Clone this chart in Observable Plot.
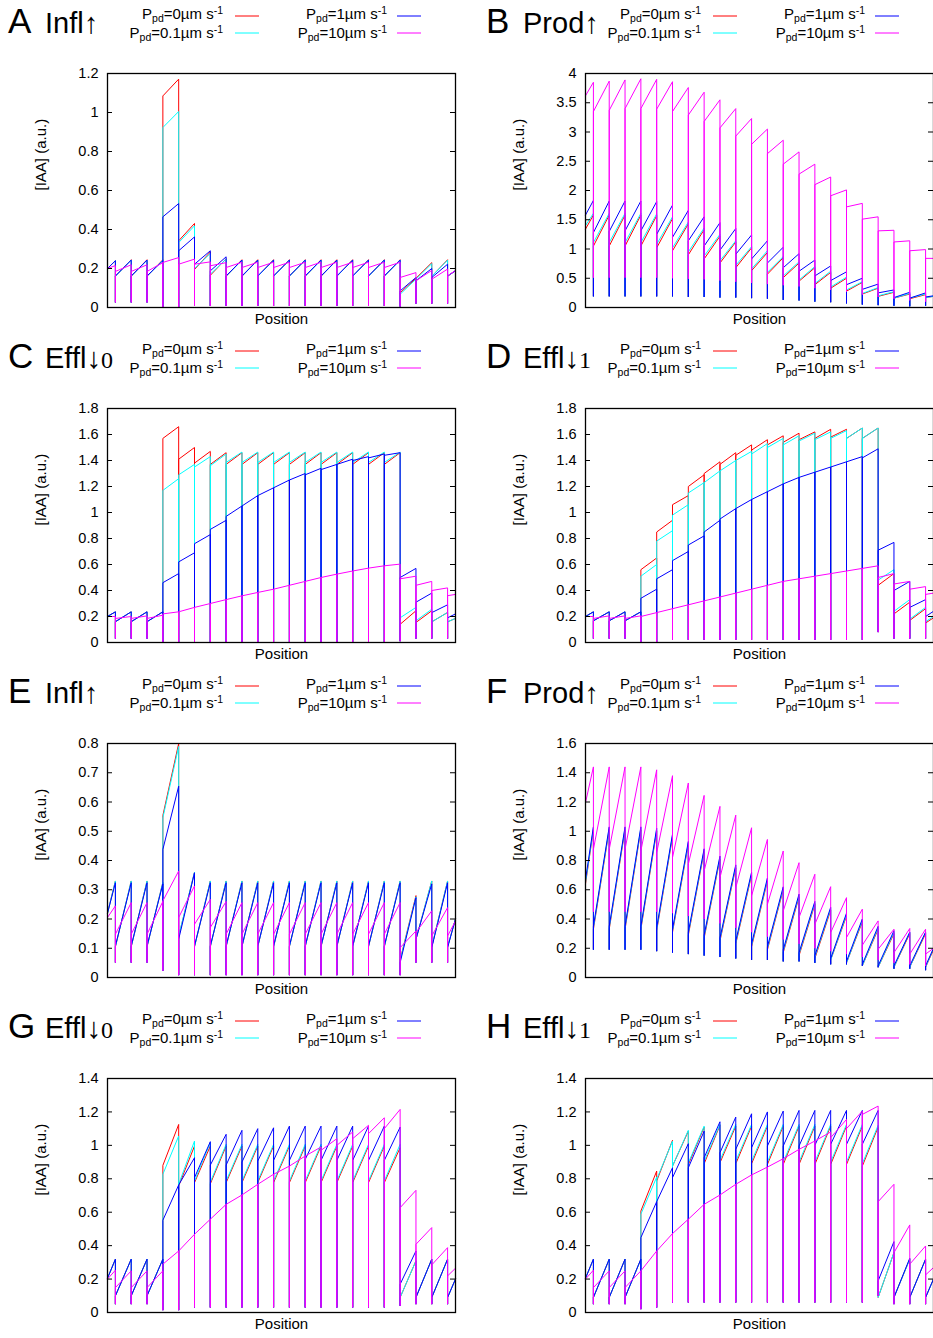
<!DOCTYPE html>
<html><head><meta charset="utf-8">
<script src="https://cdn.jsdelivr.net/npm/d3@7"></script>
<script src="https://cdn.jsdelivr.net/npm/@observablehq/plot@0.6"></script>
<style>
body{margin:0;background:#fff;width:933px;height:1338px;overflow:hidden;position:relative;font-family:"Liberation Sans",Arial,sans-serif}
.panel{position:absolute;width:466px;height:335px}
.panel svg.plot{position:absolute;left:0;top:0}
.panel svg.head{position:absolute;left:0;top:0;overflow:visible}
</style></head><body>
<script>
// wall positions (cell boundaries) along the tissue, domain 0..22
const walls = [0.5,1.5,2.5,3.5,4.5,5.5,6.5,7.5,8.5,9.5,10.5,11.5,12.5,13.5,14.5,15.5,16.5,17.5,18.5,19.5,20.5,21.5];
const xDomain = [0, 22];
const seriesNames = ["Ppd=0", "Ppd=0.1", "Ppd=1", "Ppd=10"];
const seriesColors = ["#ff0000", "#00ffff", "#0000ff", "#ff00ff"];
const legendValues = ["0", "0.1", "1", "10"];

// ---- Panel A ----
const A_ticks = [0,0.2,0.4,0.6,0.8,1,1.2];
const A_red_s  = [0.20,0.16,0.16,0.16,1.085,0.342,0.195,0.165,0.16,0.16,0.16,0.16,0.16,0.16,0.16,0.16,0.16,0.16,0.16,0.075,0.15,0.16,0.16];
const A_red_e  = [0.24,0.245,0.245,0.245,1.171,0.431,0.285,0.25,0.245,0.245,0.245,0.245,0.245,0.245,0.245,0.245,0.245,0.245,0.245,0.15,0.23,0.245,0.19];
const A_cyan_s = [0.20,0.16,0.16,0.16,0.923,0.333,0.20,0.171,0.16,0.16,0.16,0.16,0.16,0.16,0.16,0.16,0.16,0.16,0.16,0.068,0.145,0.16,0.16];
const A_cyan_e = [0.24,0.243,0.243,0.243,1.005,0.419,0.277,0.248,0.243,0.243,0.243,0.243,0.243,0.243,0.243,0.243,0.243,0.243,0.243,0.145,0.225,0.243,0.19];
const A_blue_s = [0.20,0.162,0.162,0.162,0.465,0.291,0.222,0.188,0.162,0.162,0.162,0.162,0.162,0.162,0.162,0.162,0.162,0.162,0.162,0.085,0.137,0.154,0.162];
const A_blue_e = [0.24,0.243,0.243,0.24,0.533,0.362,0.291,0.26,0.243,0.243,0.243,0.243,0.243,0.243,0.243,0.243,0.243,0.243,0.243,0.154,0.20,0.222,0.188];
const A_mag_s  = [0.20,0.185,0.185,0.185,0.231,0.222,0.222,0.214,0.205,0.205,0.205,0.205,0.205,0.205,0.205,0.205,0.205,0.205,0.205,0.154,0.137,0.145,0.162];
const A_mag_e  = [0.215,0.219,0.219,0.23,0.256,0.248,0.234,0.23,0.232,0.232,0.232,0.232,0.232,0.232,0.232,0.232,0.232,0.232,0.232,0.179,0.19,0.197,0.19];
const A_dip    = [0.026,0.026,0.026,0,0,0.008,0.008,0.008,0.008,0.008,0.008,0.008,0.008,0.008,0.008,0.008,0.008,0.008,0.005,0.02,0.02,0.02];

// ---- Panel B ----
const B_ticks = [0,0.5,1,1.5,2,2.5,3,3.5,4];
const B_red_s  = [1.34,1.05,1.05,1.05,1.05,1.02,0.97,0.90,0.83,0.76,0.68,0.63,0.57,0.51,0.45,0.39,0.33,0.28,0.23,0.19,0.16,0.15,0.17];
const B_red_e  = [1.58,1.58,1.58,1.58,1.57,1.52,1.43,1.33,1.22,1.12,1.02,0.94,0.85,0.76,0.68,0.60,0.50,0.43,0.33,0.26,0.23,0.22,0.19];
const B_cyan_s = [1.40,1.11,1.11,1.11,1.11,1.08,1.02,0.95,0.88,0.80,0.72,0.66,0.60,0.54,0.47,0.41,0.35,0.30,0.24,0.20,0.16,0.16,0.17];
const B_cyan_e = [1.61,1.61,1.61,1.61,1.60,1.55,1.46,1.36,1.25,1.14,1.04,0.97,0.87,0.78,0.70,0.62,0.52,0.44,0.34,0.27,0.24,0.23,0.19];
const B_blue_s = [1.58,1.28,1.30,1.31,1.31,1.25,1.20,1.14,1.05,0.98,0.91,0.83,0.76,0.68,0.62,0.54,0.46,0.39,0.31,0.25,0.17,0.16,0.18];
const B_blue_e = [1.83,1.82,1.82,1.82,1.81,1.75,1.66,1.55,1.45,1.35,1.24,1.14,1.03,0.92,0.81,0.71,0.61,0.50,0.40,0.30,0.26,0.25,0.20];
const B_mag_s  = [3.62,3.35,3.37,3.40,3.40,3.39,3.35,3.29,3.18,3.07,2.93,2.79,2.63,2.45,2.28,2.10,1.91,1.72,1.51,1.31,1.12,0.97,0.84];
const B_mag_e  = [3.85,3.87,3.89,3.91,3.90,3.86,3.76,3.68,3.55,3.40,3.23,3.05,2.86,2.66,2.45,2.23,2.01,1.78,1.55,1.32,1.14,0.99,0.84];
const B_dip    = [0.19,0.19,0.19,0.19,0.19,0.19,0.18,0.18,0.17,0.17,0.16,0.15,0.13,0.12,0.10,0.09,0.07,0.05,0.04,0.03,0.02,0.03];
const B_dipM   = [0.51,0.51,0.51,0.51,0.51,0.50,0.49,0.48,0.46,0.44,0.42,0.40,0.38,0.36,0.33,0.30,0.27,0.22,0.18,0.15,0.12,0.10];

// ---- Panel C ----
const C_ticks = [0,0.2,0.4,0.6,0.8,1,1.2,1.4,1.6,1.8];
const C_red_s  = [0.20,0.16,0.16,0.16,1.57,1.41,1.38,1.37,1.37,1.37,1.37,1.37,1.37,1.37,1.37,1.37,1.37,1.37,1.37,0.14,0.154,0.159,0.159];
const C_red_e  = [0.236,0.236,0.236,0.236,1.66,1.50,1.47,1.46,1.46,1.46,1.46,1.46,1.46,1.46,1.46,1.46,1.46,1.46,1.46,0.244,0.244,0.231,0.185];
const C_cyan_s = [0.20,0.16,0.16,0.16,1.17,1.29,1.35,1.36,1.385,1.385,1.385,1.385,1.385,1.385,1.385,1.385,1.385,1.385,1.385,0.19,0.167,0.159,0.159];
const C_cyan_e = [0.236,0.236,0.236,0.236,1.26,1.37,1.43,1.45,1.465,1.465,1.465,1.465,1.465,1.465,1.465,1.465,1.465,1.465,1.465,0.27,0.256,0.231,0.185];
const C_blue_s = [0.20,0.16,0.16,0.16,0.46,0.62,0.76,0.87,0.97,1.05,1.13,1.19,1.25,1.29,1.33,1.37,1.40,1.42,1.44,0.50,0.31,0.23,0.19];
const C_blue_e = [0.236,0.236,0.236,0.236,0.53,0.69,0.83,0.94,1.05,1.13,1.19,1.25,1.30,1.34,1.37,1.41,1.43,1.45,1.46,0.57,0.38,0.29,0.22];
const C_mag_s  = [0.20,0.185,0.185,0.185,0.22,0.236,0.27,0.30,0.33,0.359,0.385,0.41,0.44,0.47,0.50,0.526,0.55,0.572,0.59,0.49,0.44,0.40,0.36];
const C_mag_e  = [0.20,0.20,0.205,0.21,0.236,0.27,0.30,0.33,0.359,0.385,0.41,0.44,0.47,0.50,0.526,0.55,0.572,0.59,0.603,0.51,0.47,0.42,0.37];
const C_dip    = [0.03,0.03,0.03,0,0,0,0,0,0,0,0,0,0,0,0,0,0,0,0.01,0.03,0.03,0.03];

// ---- Panel D ----
const D_ticks = [0,0.2,0.4,0.6,0.8,1,1.2,1.4,1.6,1.8];
const D_red_s  = [0.20,0.167,0.167,0.167,0.56,0.85,1.06,1.20,1.30,1.37,1.44,1.48,1.52,1.54,1.56,1.57,1.58,1.57,1.57,0.44,0.22,0.17,0.15];
const D_red_e  = [0.236,0.236,0.236,0.236,0.65,0.94,1.13,1.29,1.39,1.46,1.52,1.56,1.59,1.61,1.62,1.64,1.64,1.65,1.65,0.53,0.31,0.26,0.19];
const D_cyan_s = [0.20,0.167,0.167,0.167,0.51,0.78,0.98,1.15,1.23,1.32,1.40,1.45,1.50,1.52,1.55,1.56,1.57,1.57,1.57,0.48,0.24,0.18,0.16];
const D_cyan_e = [0.236,0.236,0.236,0.236,0.60,0.86,1.06,1.23,1.32,1.40,1.47,1.53,1.57,1.59,1.61,1.62,1.63,1.65,1.65,0.56,0.33,0.27,0.20];
const D_blue_s = [0.20,0.167,0.167,0.167,0.34,0.49,0.63,0.75,0.85,0.95,1.03,1.10,1.16,1.22,1.27,1.31,1.35,1.39,1.42,0.71,0.40,0.27,0.20];
const D_blue_e = [0.236,0.236,0.236,0.236,0.41,0.56,0.70,0.82,0.94,1.03,1.10,1.16,1.22,1.27,1.31,1.35,1.39,1.43,1.49,0.77,0.47,0.33,0.24];
const D_mag_s  = [0.20,0.185,0.185,0.185,0.20,0.23,0.26,0.29,0.32,0.35,0.38,0.41,0.44,0.47,0.49,0.51,0.53,0.55,0.57,0.50,0.45,0.41,0.37];
const D_mag_e  = [0.20,0.205,0.205,0.205,0.23,0.26,0.29,0.32,0.35,0.38,0.41,0.44,0.47,0.49,0.51,0.53,0.55,0.57,0.59,0.53,0.47,0.43,0.38];
const D_dip    = [0.03,0.03,0.03,0,0,0.02,0.02,0.02,0.02,0.02,0.02,0.02,0.02,0.02,0.02,0.02,0.02,0.02,0.08,0.03,0.03,0.03];

// ---- Panel E ----
const E_ticks = [0,0.1,0.2,0.3,0.4,0.5,0.6,0.7,0.8];
const E_red_s  = [0.22,0.105,0.105,0.105,0.554,0.14,0.105,0.105,0.105,0.105,0.105,0.105,0.105,0.105,0.105,0.105,0.105,0.105,0.105,0.06,0.13,0.105,0.105];
const E_red_e  = [0.33,0.33,0.33,0.325,0.80,0.36,0.33,0.33,0.33,0.33,0.33,0.33,0.33,0.33,0.33,0.33,0.33,0.33,0.33,0.28,0.33,0.33,0.20];
const E_cyan_s = [0.22,0.105,0.105,0.105,0.546,0.142,0.105,0.105,0.105,0.105,0.105,0.105,0.105,0.105,0.105,0.105,0.105,0.105,0.105,0.058,0.13,0.105,0.105];
const E_cyan_e = [0.33,0.33,0.33,0.325,0.79,0.36,0.33,0.33,0.33,0.33,0.33,0.33,0.33,0.33,0.33,0.33,0.33,0.33,0.33,0.276,0.33,0.33,0.20];
const E_blue_s = [0.22,0.108,0.108,0.108,0.438,0.131,0.108,0.108,0.108,0.108,0.108,0.108,0.108,0.108,0.108,0.108,0.108,0.108,0.108,0.051,0.131,0.102,0.102];
const E_blue_e = [0.324,0.324,0.324,0.32,0.654,0.358,0.324,0.324,0.324,0.324,0.324,0.324,0.324,0.324,0.324,0.324,0.324,0.324,0.324,0.273,0.32,0.324,0.20];
const E_mag_s  = [0.205,0.148,0.148,0.148,0.262,0.205,0.182,0.171,0.148,0.148,0.148,0.148,0.148,0.148,0.148,0.148,0.148,0.148,0.148,0.102,0.154,0.142,0.142];
const E_mag_e  = [0.245,0.256,0.256,0.26,0.364,0.313,0.267,0.26,0.256,0.256,0.256,0.256,0.256,0.256,0.256,0.256,0.256,0.256,0.256,0.159,0.228,0.239,0.193];
const E_dip    = [0.051,0.051,0.051,0.023,0.008,0.008,0.008,0.008,0.008,0.008,0.008,0.008,0.008,0.008,0.008,0.008,0.008,0.008,0.008,0.051,0.051,0.051];

// ---- Panel F ----
const F_ticks = [0,0.2,0.4,0.6,0.8,1,1.2,1.4,1.6];
const F_red_s  = [0.64,0.33,0.33,0.33,0.33,0.32,0.31,0.29,0.27,0.25,0.23,0.21,0.19,0.17,0.15,0.13,0.12,0.10,0.08,0.07,0.07,0.07,0.07];
const F_red_e  = [1.01,1.01,1.01,1.01,1.00,0.96,0.91,0.86,0.81,0.75,0.70,0.66,0.60,0.55,0.50,0.46,0.42,0.38,0.33,0.30,0.30,0.30,0.19];
const F_cyan_s = [0.65,0.34,0.34,0.34,0.34,0.33,0.32,0.30,0.28,0.26,0.24,0.22,0.20,0.18,0.16,0.14,0.12,0.10,0.08,0.07,0.07,0.07,0.07];
const F_cyan_e = [1.02,1.02,1.02,1.02,1.01,0.97,0.92,0.87,0.82,0.76,0.71,0.67,0.61,0.56,0.51,0.47,0.43,0.39,0.34,0.31,0.31,0.31,0.20];
const F_blue_s = [0.67,0.35,0.35,0.35,0.35,0.34,0.33,0.31,0.29,0.27,0.25,0.23,0.21,0.19,0.17,0.15,0.13,0.11,0.09,0.08,0.08,0.08,0.08];
const F_blue_e = [1.03,1.03,1.03,1.03,1.02,0.98,0.93,0.88,0.83,0.77,0.72,0.68,0.62,0.57,0.52,0.48,0.44,0.40,0.35,0.32,0.31,0.31,0.20];
const F_mag_s  = [1.195,0.876,0.876,0.876,0.865,0.853,0.82,0.774,0.728,0.683,0.614,0.558,0.50,0.455,0.41,0.364,0.307,0.273,0.221,0.193,0.17,0.16,0.16];
const F_mag_e  = [1.44,1.44,1.44,1.44,1.42,1.38,1.33,1.245,1.17,1.11,1.024,0.944,0.865,0.785,0.706,0.621,0.546,0.467,0.387,0.33,0.335,0.33,0.20];
const F_dip    = [0.19,0.19,0.19,0.19,0.18,0.17,0.16,0.15,0.14,0.13,0.12,0.12,0.11,0.11,0.10,0.09,0.09,0.08,0.07,0.06,0.06,0.05];
const F_dipM   = [0.45,0.45,0.45,0.45,0.45,0.44,0.42,0.40,0.37,0.34,0.31,0.28,0.26,0.23,0.20,0.18,0.16,0.14,0.12,0.10,0.09,0.08];

// ---- Panel G ----
const G_ticks = [0,0.2,0.4,0.6,0.8,1,1.2,1.4];
const G_red_s  = [0.205,0.10,0.10,0.10,0.88,0.757,0.777,0.77,0.777,0.777,0.777,0.777,0.777,0.777,0.777,0.777,0.777,0.777,0.777,0.09,0.09,0.09,0.09];
const G_red_e  = [0.319,0.319,0.319,0.319,1.125,0.996,0.996,0.996,0.996,0.996,0.996,0.996,0.996,0.996,0.996,0.996,0.996,0.996,0.986,0.309,0.319,0.319,0.20];
const G_cyan_s = [0.205,0.10,0.10,0.10,0.827,0.767,0.787,0.78,0.787,0.787,0.787,0.787,0.787,0.787,0.787,0.787,0.787,0.787,0.787,0.09,0.09,0.09,0.09];
const G_cyan_e = [0.319,0.319,0.319,0.319,1.056,1.026,1.016,1.006,1.006,1.006,1.006,1.006,1.006,1.006,1.006,1.006,1.006,1.006,1.006,0.309,0.319,0.319,0.20];
const G_blue_s = [0.205,0.10,0.10,0.10,0.552,0.763,0.807,0.882,0.882,0.90,0.906,0.91,0.91,0.916,0.91,0.91,0.91,0.91,0.91,0.169,0.09,0.09,0.09];
const G_blue_e = [0.319,0.319,0.319,0.319,0.763,0.926,1.022,1.066,1.09,1.10,1.105,1.115,1.115,1.115,1.115,1.115,1.115,1.115,1.109,0.368,0.319,0.319,0.20];
const G_mag_s  = [0.20,0.149,0.149,0.149,0.289,0.368,0.468,0.558,0.647,0.703,0.767,0.827,0.876,0.936,0.97,1.00,1.04,1.07,1.10,0.627,0.408,0.285,0.219];
const G_mag_e  = [0.253,0.249,0.249,0.249,0.368,0.468,0.558,0.647,0.703,0.767,0.827,0.876,0.936,0.99,1.04,1.08,1.12,1.165,1.215,0.731,0.508,0.388,0.265];
const G_dip    = [0.05,0.05,0.05,0.014,0.014,0.03,0.03,0.03,0.03,0.03,0.03,0.03,0.03,0.03,0.03,0.03,0.03,0.03,0.04,0.05,0.05,0.05];

// ---- Panel H ----
const H_ticks = [0,0.2,0.4,0.6,0.8,1,1.2,1.4];
const H_red_s  = [0.205,0.09,0.09,0.09,0.607,0.787,0.876,0.885,0.89,0.896,0.89,0.89,0.886,0.886,0.886,0.886,0.886,0.886,0.876,0.09,0.09,0.09,0.09];
const H_red_e  = [0.319,0.319,0.319,0.319,0.846,1.03,1.085,1.109,1.12,1.115,1.115,1.115,1.115,1.115,1.115,1.115,1.115,1.115,1.109,0.358,0.319,0.319,0.20];
const H_cyan_s = [0.205,0.09,0.09,0.09,0.588,0.797,0.876,0.895,0.905,0.91,0.905,0.905,0.90,0.90,0.90,0.90,0.90,0.90,0.89,0.09,0.09,0.09,0.09];
const H_cyan_e = [0.319,0.319,0.319,0.319,0.81,1.025,1.09,1.115,1.125,1.125,1.125,1.125,1.125,1.125,1.125,1.125,1.125,1.125,1.12,0.36,0.319,0.319,0.20];
const H_blue_s = [0.205,0.09,0.09,0.09,0.448,0.663,0.807,0.866,0.926,0.956,0.976,0.986,0.996,0.996,0.996,1.00,1.006,1.006,1.006,0.189,0.09,0.09,0.09];
const H_blue_e = [0.319,0.319,0.319,0.319,0.663,0.866,1.01,1.085,1.141,1.169,1.189,1.20,1.205,1.209,1.209,1.209,1.209,1.209,1.209,0.424,0.325,0.319,0.20];
const H_mag_s  = [0.20,0.149,0.149,0.149,0.249,0.368,0.472,0.558,0.647,0.703,0.767,0.823,0.87,0.92,0.976,1.026,1.046,1.10,1.185,0.663,0.358,0.289,0.225];
const H_mag_e  = [0.253,0.249,0.249,0.249,0.368,0.472,0.558,0.647,0.703,0.767,0.823,0.87,0.92,0.976,1.026,1.08,1.155,1.205,1.235,0.767,0.524,0.398,0.269];
const H_dip    = [0.05,0.05,0.05,0.02,0.03,0.06,0.06,0.06,0.06,0.06,0.06,0.06,0.06,0.06,0.06,0.06,0.06,0.06,0.10,0.05,0.05,0.05];

const panels = [
  {letter:"A", name:"Infl", arrow:"↑", sub:"", ticks:A_ticks, s:[[A_red_s,A_red_e,A_dip],[A_cyan_s,A_cyan_e,A_dip],[A_blue_s,A_blue_e,A_dip],[A_mag_s,A_mag_e,A_dip]]},
  {letter:"B", name:"Prod", arrow:"↑", sub:"", ticks:B_ticks, s:[[B_red_s,B_red_e,B_dip],[B_cyan_s,B_cyan_e,B_dip],[B_blue_s,B_blue_e,B_dip],[B_mag_s,B_mag_e,B_dipM]]},
  {letter:"C", name:"Effl", arrow:"↓", sub:"0", ticks:C_ticks, s:[[C_red_s,C_red_e,C_dip],[C_cyan_s,C_cyan_e,C_dip],[C_blue_s,C_blue_e,C_dip],[C_mag_s,C_mag_e,C_dip]]},
  {letter:"D", name:"Effl", arrow:"↓", sub:"1", ticks:D_ticks, s:[[D_red_s,D_red_e,D_dip],[D_cyan_s,D_cyan_e,D_dip],[D_blue_s,D_blue_e,D_dip],[D_mag_s,D_mag_e,D_dip]]},
  {letter:"E", name:"Infl", arrow:"↑", sub:"", ticks:E_ticks, s:[[E_red_s,E_red_e,E_dip],[E_cyan_s,E_cyan_e,E_dip],[E_blue_s,E_blue_e,E_dip],[E_mag_s,E_mag_e,E_dip]]},
  {letter:"F", name:"Prod", arrow:"↑", sub:"", ticks:F_ticks, s:[[F_red_s,F_red_e,F_dip],[F_cyan_s,F_cyan_e,F_dip],[F_blue_s,F_blue_e,F_dip],[F_mag_s,F_mag_e,F_dipM]]},
  {letter:"G", name:"Effl", arrow:"↓", sub:"0", ticks:G_ticks, s:[[G_red_s,G_red_e,G_dip],[G_cyan_s,G_cyan_e,G_dip],[G_blue_s,G_blue_e,G_dip],[G_mag_s,G_mag_e,G_dip]]},
  {letter:"H", name:"Effl", arrow:"↓", sub:"1", ticks:H_ticks, s:[[H_red_s,H_red_e,H_dip],[H_cyan_s,H_cyan_e,H_dip],[H_blue_s,H_blue_e,H_dip],[H_mag_s,H_mag_e,H_dip]]}
];

// build the polyline of one series: rising ramp in each cell, dip at each wall
function seriesPoints(start, end, dip, name) {
  const pts = [];
  for (let i = 0; i < start.length; i++) {
    const x0 = i === 0 ? xDomain[0] : walls[i - 1];
    const x1 = i === start.length - 1 ? xDomain[1] : walls[i];
    pts.push({x: x0, y: start[i], s: name});
    pts.push({x: x1, y: end[i], s: name});
    if (i < walls.length) pts.push({x: x1, y: dip[i], s: name});
  }
  return pts;
}

const NS = "http://www.w3.org/2000/svg";
const rowTop = [0, 335, 670, 1005];
const colLeft = [0, 478];
const W = 466, H = 335, mL = 107, mR = 11, mT = 73, mB = 28;
const plotW = W - mL - mR;

panels.forEach((p, k) => {
  const col = k % 2, row = Math.floor(k / 2);
  const div = document.createElement("div");
  div.className = "panel";
  div.style.left = colLeft[col] + "px";
  div.style.top = rowTop[row] + "px";
  document.body.appendChild(div);

  const yMax = p.ticks[p.ticks.length - 1];
  const lineMarks = p.s.map((ser, j) =>
    Plot.line(seriesPoints(ser[0], ser[1], ser[2], seriesNames[j]), {x: "x", y: "y", stroke: seriesColors[j], strokeWidth: 1})
  );
  const chart = Plot.plot({
    width: W, height: H,
    marginTop: mT, marginBottom: mB, marginLeft: mL, marginRight: mR,
    x: {domain: xDomain, axis: null},
    y: {domain: [0, yMax], axis: null},
    style: {fontFamily: "Liberation Sans, Arial, sans-serif", fontSize: "14px", background: "transparent", color: "#000"},
    marks: [
      ...lineMarks,
      Plot.frame({stroke: "#000", strokeWidth: 1.3}),
      Plot.ruleY(p.ticks, {y: d => d, insetRight: plotW - 5, stroke: "#000", strokeWidth: 1}),
      Plot.ruleY(p.ticks, {y: d => d, insetLeft: plotW - 5, stroke: "#000", strokeWidth: 1}),
      Plot.axisY(p.ticks, {anchor: "left", tickSize: 0, tickPadding: 9, tickFormat: d3.format("~g"), fontSize: 14.5, label: null}),
      Plot.text(["Position"], {frameAnchor: "bottom", dy: 16, fontSize: 15}),
      Plot.text(["[IAA] (a.u.)"], {frameAnchor: "left", dx: -66, rotate: -90, fontSize: 15})
    ]
  });
  chart.classList.add("plot");
  div.appendChild(chart);

  // header: panel letter, perturbation name and legend
  const head = document.createElementNS(NS, "svg");
  head.setAttribute("class", "head");
  head.setAttribute("width", W);
  head.setAttribute("height", 50);
  head.setAttribute("font-family", "Liberation Sans, Arial, sans-serif");
  let html = `<text x="8" y="33" font-size="35">${p.letter}</text>`;
  html += `<text x="45" y="33" font-size="29">${p.name}${p.arrow}${p.sub ? `<tspan font-family="Liberation Serif, serif" font-size="24">${p.sub}</tspan>` : ""}</text>`;
  const legendPos = [
    {x: 223, y: 19, lx: 235, ly: 16},
    {x: 223, y: 38, lx: 235, ly: 33},
    {x: 387, y: 19, lx: 397, ly: 16},
    {x: 387, y: 38, lx: 397, ly: 33}
  ];
  legendPos.forEach((l, j) => {
    html += `<text x="${l.x}" y="${l.y}" font-size="15" text-anchor="end">P<tspan font-size="10.5" dy="2.5">pd</tspan><tspan dy="-2.5">=${legendValues[j]}µm s</tspan><tspan font-size="10.5" dy="-5">-1</tspan></text>`;
    html += `<line x1="${l.lx}" x2="${l.lx + 24}" y1="${l.ly}" y2="${l.ly}" stroke="${seriesColors[j]}" stroke-width="1"/>`;
  });
  head.innerHTML = html;
  div.appendChild(head);
});
</script>
</body></html>
